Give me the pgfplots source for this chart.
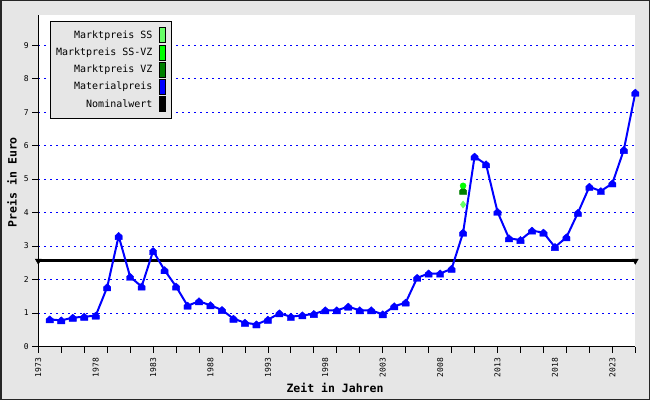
\documentclass[border=0pt]{standalone}
\usepackage{fontspec}
\setmainfont{DejaVu Sans Mono}
\usepackage{pgfplots}
\usepackage{pgfplotstable}
\pgfplotsset{compat=1.18}

\definecolor{bg}{HTML}{E6E6E6}
\definecolor{ssgreen}{HTML}{66FF66}
\definecolor{ssvzgreen}{HTML}{00FF00}
\definecolor{vzgreen}{HTML}{008000}

\pgfdeclareplotmark{house}{%
  \pgfpathmoveto{\pgfqpoint{-\pgfplotmarksize}{-\pgfplotmarksize}}%
  \pgfpathlineto{\pgfqpoint{\pgfplotmarksize}{-\pgfplotmarksize}}%
  \pgfpathlineto{\pgfqpoint{\pgfplotmarksize}{0.1\pgfplotmarksize}}%
  \pgfpathlineto{\pgfqpoint{0pt}{\pgfplotmarksize}}%
  \pgfpathlineto{\pgfqpoint{-\pgfplotmarksize}{0.1\pgfplotmarksize}}%
  \pgfpathclose
  \pgfusepathqfillstroke}

\pgfplotstableread{
year price
1974 0.81
1975 0.78
1976 0.86
1977 0.89
1978 0.92
1979 1.77
1980 3.30
1981 2.08
1982 1.79
1983 2.85
1984 2.28
1985 1.79
1986 1.22
1987 1.35
1988 1.23
1989 1.09
1990 0.83
1991 0.71
1992 0.66
1993 0.80
1994 0.99
1995 0.89
1996 0.93
1997 0.97
1998 1.08
1999 1.08
2000 1.19
2001 1.08
2002 1.08
2003 0.96
2004 1.20
2005 1.31
2006 2.05
2007 2.18
2008 2.18
2009 2.32
2010 3.40
2011 5.67
2012 5.44
2013 4.02
2014 3.23
2015 3.18
2016 3.46
2017 3.40
2018 2.97
2019 3.26
2020 3.99
2021 4.77
2022 4.64
2023 4.87
2024 5.87
2025 7.58
}\material

\begin{document}
\begin{tikzpicture}[x=1pt,y=1pt]
\useasboundingbox (0,0) rectangle (650,400);
\fill[bg] (0,0) rectangle (650,400);
\draw[black!85, line width=1.5pt] (0.75,0.75) rectangle (649.25,399.25);
\begin{axis}[
  at={(38.3pt,53.5pt)}, anchor=south west,
  scale only axis, width=597pt, height=331.5pt,
  xmin=1973, xmax=2025, ymin=0, ymax=9.9,
  axis lines=left,
  axis line style={-, black, line width=1pt},
  axis background/.style={fill=white},
  clip=false,
  ytick={0,...,9},
  ymajorgrids,
  grid style={blue, dash pattern=on 2pt off 4pt, line width=0.8pt},
  xtick={1973,1975,...,2025},
  xticklabels={},
  extra x ticks={1973,1978,1983,1988,1993,1998,2003,2008,2013,2018,2023},
  extra x tick labels={1973,1978,1983,1988,1993,1998,2003,2008,2013,2018,2023},
  extra x tick style={major tick length=0pt, grid=none,
    xticklabel style={rotate=90, anchor=east, xshift=-8pt}},
  tick align=outside,
  major tick length=6pt,
  tick style={black, line width=0.8pt},
  ticklabel style={font=\fontsize{8}{9}\selectfont},
  /pgf/number format/assume math mode=true,
  xlabel={\bfseries Zeit in Jahren},
  ylabel={\bfseries Preis in Euro},
  label style={font=\fontsize{11.5}{13}\selectfont},
  xlabel style={at={(axis description cs:0.497,-0.125)}, anchor=center},
  ylabel style={at={(axis description cs:-0.044,0.496)}, anchor=center},
  legend plot pos=right,
  legend cell align=right,
  legend style={at={(axis description cs:0.0196,0.9834)}, anchor=north west,
    fill=bg, draw=black, line width=0.8pt,
    font=\fontsize{10}{12}\selectfont,
    nodes={inner sep=0pt},
    inner xsep=5.7pt, inner ysep=6.5pt,
    row sep=1.6pt, column sep=7pt},
]
\addlegendimage{legend image code/.code={\draw[black, line width=0.6pt, fill=ssgreen] (0pt,-7.5pt) rectangle (6pt,7.5pt);}}
\addlegendentry{Marktpreis SS}
\addlegendimage{legend image code/.code={\draw[black, line width=0.6pt, fill=ssvzgreen] (0pt,-7.5pt) rectangle (6pt,7.5pt);}}
\addlegendentry{Marktpreis SS-VZ}
\addlegendimage{legend image code/.code={\draw[black, line width=0.6pt, fill=vzgreen] (0pt,-7.5pt) rectangle (6pt,7.5pt);}}
\addlegendentry{Marktpreis VZ}
\addlegendimage{legend image code/.code={\draw[black, line width=0.6pt, fill=blue] (0pt,-7.5pt) rectangle (6pt,7.5pt);}}
\addlegendentry{Materialpreis}
\addlegendimage{legend image code/.code={\draw[black, line width=0.6pt, fill=black] (0pt,-7.5pt) rectangle (6pt,7.5pt);}}
\addlegendentry{Nominalwert}

\addplot[forget plot, black, line width=3pt, mark=triangle*, mark size=3.5pt,
  mark options={rotate=180, line width=0.4pt, solid}]
  coordinates {(1973,2.56) (2025,2.56)};
\addplot[forget plot, blue, line width=2pt, mark=house, mark size=3.6pt,
  mark options={solid, fill=blue, draw=blue, line width=0.4pt}]
  table[x=year, y=price] {\material};
\addplot[forget plot, only marks, mark=diamond*, mark size=3.6pt,
  mark options={fill=ssgreen, draw=ssgreen}] coordinates {(2010,4.24)};
\addplot[forget plot, only marks, mark=house, mark size=3.5pt,
  mark options={fill=vzgreen, draw=vzgreen}] coordinates {(2010,4.65)};
\addplot[forget plot, only marks, mark=*, mark size=3pt,
  mark options={fill=ssvzgreen, draw=ssvzgreen}] coordinates {(2010,4.80)};
\end{axis}
\end{tikzpicture}
\end{document}
